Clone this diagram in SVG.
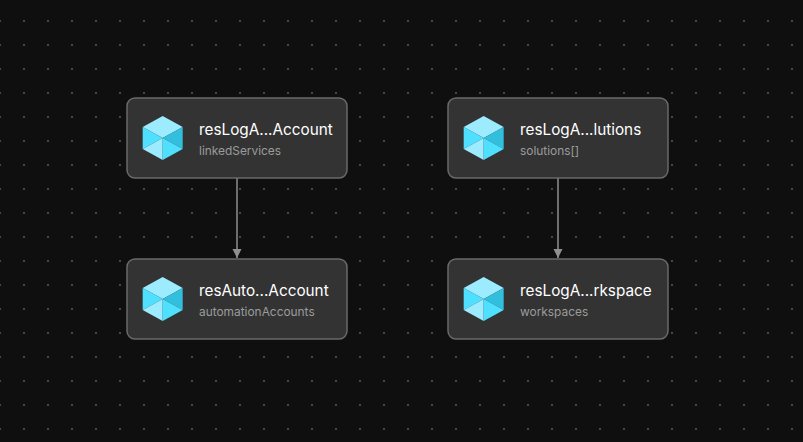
<svg xmlns="http://www.w3.org/2000/svg" xmlns:xlink="http://www.w3.org/1999/xlink" width="803" height="442" viewBox="0 0 803 442">
<style>
.box{fill:#333333;stroke:#6a6a6a;stroke-width:1.5}
.t{font-family:Inter,"Liberation Sans",sans-serif;font-size:15.3px;fill:#fff}
.s{font-family:Inter,"Liberation Sans",sans-serif;font-size:11.9px;fill:#9b9b9b}
.edge{stroke:#8f8f8f;stroke-width:1.5;fill:none;marker-end:url(#arrow)}
</style>
<defs>
<pattern id="dots" width="24" height="24" patternUnits="userSpaceOnUse" patternTransform="translate(0 9)">
<rect width="24" height="24" fill="#0f0f0f"/>
<rect x="-1" y="11" width="2" height="2" fill="#484848"/>
<rect x="23" y="11" width="2" height="2" fill="#484848"/>
</pattern>
<marker id="arrow" markerUnits="userSpaceOnUse" markerWidth="10" markerHeight="10" refX="9" refY="4.5" orient="auto">
<path d="M0 0L9 4.5L0 9Z" fill="#8f8f8f"/>
</marker>
<g id="cube">
<path d="M0-22L20-11L0 0L-20-11Z" fill="#9cebff"/>
<path d="M-20-11L0 0L-20 11Z" fill="#50e0ff"/>
<path d="M20-11L0 0L20 11Z" fill="#32bedd"/>
<path d="M-20 11L0 0L0 22Z" fill="#9cebff"/>
<path d="M20 11L0 0L0 22Z" fill="#50e0ff"/>
</g>
</defs>
<rect width="803" height="442" fill="url(#dots)"/>
<g id="connectors">
<path class="edge" d="M237 178V258"/>
<path class="edge" d="M558 178V258"/>
</g>
<g id="node-1">
<rect class="box" x="127" y="98" width="220" height="80" rx="8"/>
<use xlink:href="#cube" href="#cube" x="162.7" y="138"/>
<text class="t" x="199" y="135">resLogA...Account</text>
<text class="s" x="199" y="155">linkedServices</text>
</g>
<g id="node-2">
<rect class="box" x="448" y="98" width="220" height="80" rx="8"/>
<use xlink:href="#cube" href="#cube" x="483.7" y="138"/>
<text class="t" x="520" y="135">resLogA...lutions</text>
<text class="s" x="520" y="155">solutions[]</text>
</g>
<g id="node-3">
<rect class="box" x="127" y="259" width="220" height="80" rx="8"/>
<use xlink:href="#cube" href="#cube" x="162.7" y="299"/>
<text class="t" x="199" y="296">resAuto...Account</text>
<text class="s" x="199" y="316">automationAccounts</text>
</g>
<g id="node-4">
<rect class="box" x="448" y="259" width="220" height="80" rx="8"/>
<use xlink:href="#cube" href="#cube" x="483.7" y="299"/>
<text class="t" x="520" y="296">resLogA...rkspace</text>
<text class="s" x="520" y="316">workspaces</text>
</g>
</svg>
